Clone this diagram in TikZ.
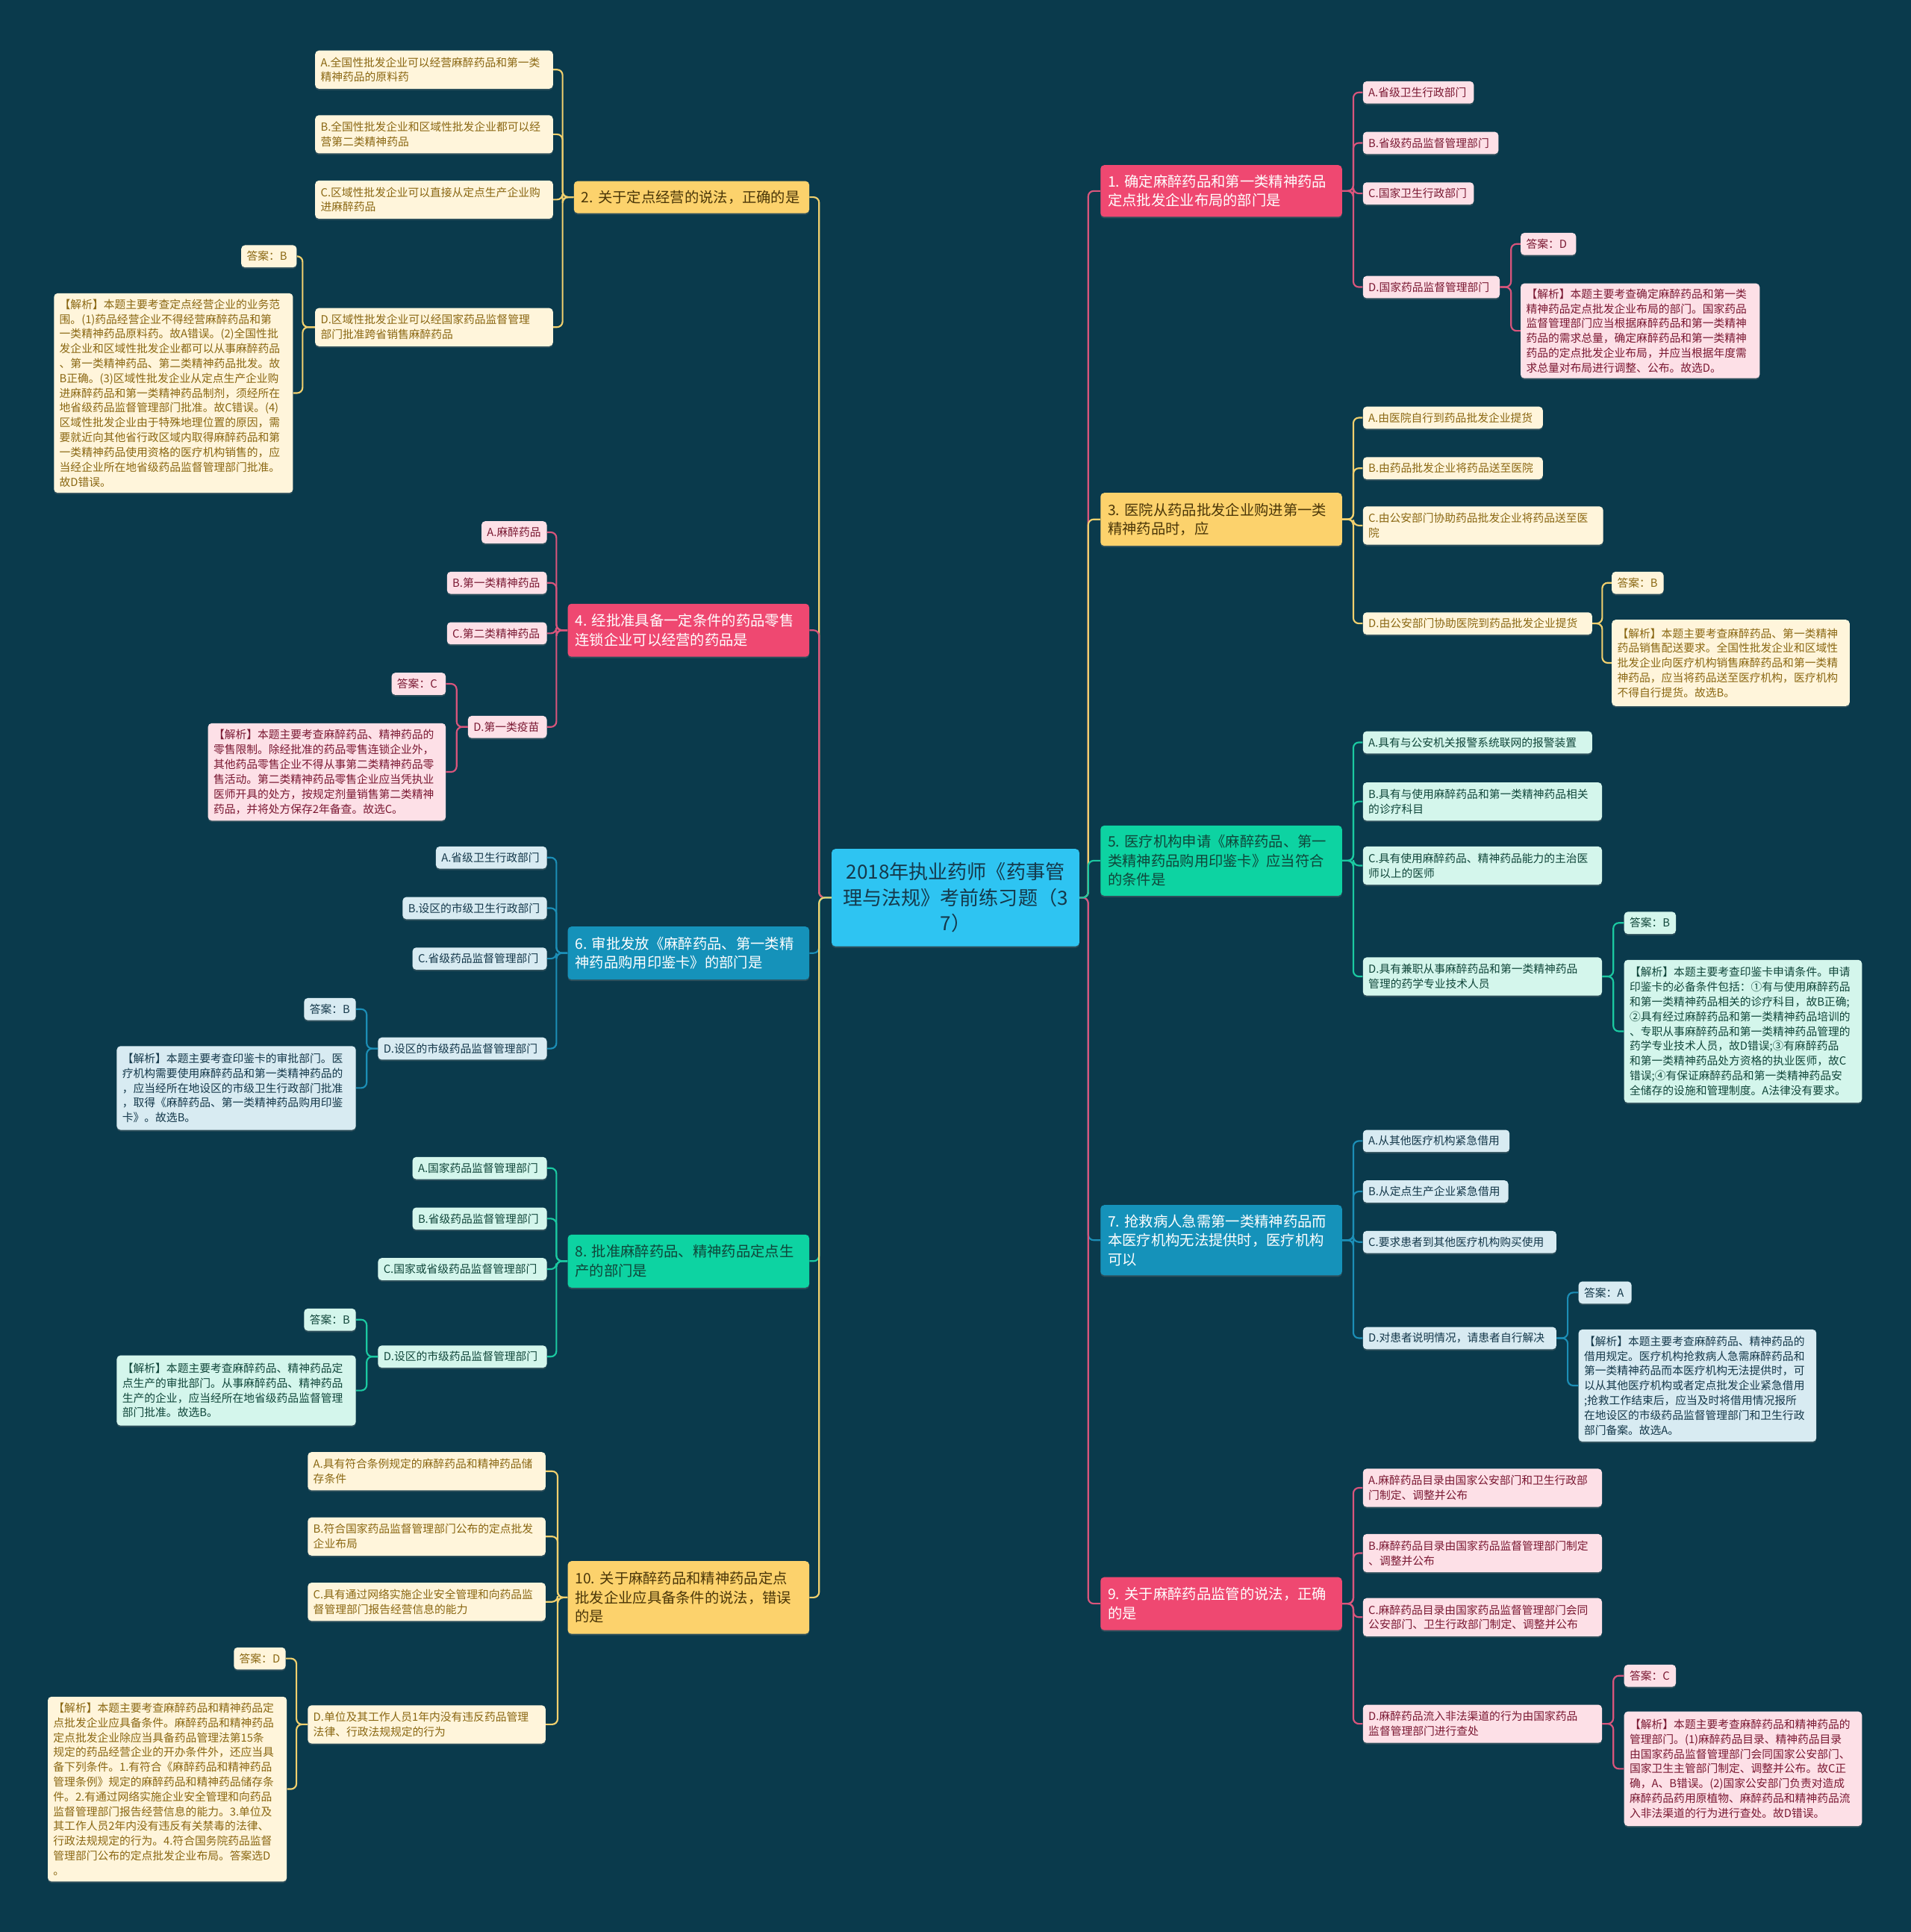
\documentclass[tikz,border=0pt]{standalone}
\usepackage{fontspec}
\setmainfont{Noto Sans CJK SC}
\usetikzlibrary{shadows}
\definecolor{bgc}{HTML}{0A3A4C}
\definecolor{ctrc}{HTML}{2EC4F2}
\definecolor{ctrtxt}{HTML}{15384A}
\definecolor{pk}{HTML}{EF4871}
\definecolor{pkline}{HTML}{D9557C}
\definecolor{pkleaf}{HTML}{FDE0E7}
\definecolor{pktxt}{HTML}{7A1832}
\definecolor{yl}{HTML}{FCD26C}
\definecolor{ylline}{HTML}{F1D06E}
\definecolor{ylleaf}{HTML}{FFF5DB}
\definecolor{yltxt}{HTML}{8A6712}
\definecolor{ylbrtxt}{HTML}{4A3608}
\definecolor{gn}{HTML}{0DD3A2}
\definecolor{gnline}{HTML}{1BC9A1}
\definecolor{gnleaf}{HTML}{D4F6EC}
\definecolor{gntxt}{HTML}{10463A}
\definecolor{bl}{HTML}{1592BA}
\definecolor{blline}{HTML}{1C8EB6}
\definecolor{blleaf}{HTML}{D8EBF2}
\definecolor{bltxt}{HTML}{14384A}
\newcommand\mmlf{\fontsize{8.95}{12}\selectfont}
\newcommand\mmbf{\fontsize{11.7}{15.5}\selectfont}
\newcommand\mmcf{\fontsize{15.8}{21}\selectfont}
\newcommand\mmW[7]{\pgfmathsetmacro\mmtw{#5-9}\node[#1,anchor=west,text width=\mmtw pt,minimum height=#6pt] (#2) at (#3,#4) {#7};}
\newcommand\mmE[7]{\pgfmathsetmacro\mmtw{#5-9}\node[#1,anchor=east,text width=\mmtw pt,minimum height=#6pt] (#2) at (#3,#4) {#7};}
\newcommand\mmB[8]{\pgfmathsetmacro\mmtw{#6-12}\node[#1,anchor=#3,text width=\mmtw pt,minimum height=#7pt] (#2) at (#4,#5) {#8};}
\tikzset{
  boxst/.style={rounded corners=3pt, inner xsep=4.5pt, inner ysep=0pt, align=left,
    drop shadow={opacity=0.3, shadow xshift=0pt, shadow yshift=-1.2pt}},
  leafst/.style={boxst, font=\mmlf},
  pkl/.style={leafst, fill=pkleaf, text=pktxt},
  yll/.style={leafst, fill=ylleaf, text=yltxt},
  gnl/.style={leafst, fill=gnleaf, text=gntxt},
  bll/.style={leafst, fill=blleaf, text=bltxt},
  brst/.style={boxst, inner xsep=6pt, font=\mmbf},
  pkb/.style={brst, fill=pk, text=white},
  ylb/.style={brst, fill=yl, text=ylbrtxt},
  gnb/.style={brst, fill=gn, text=gntxt},
  blb/.style={brst, fill=bl, text=white},
  ctrst/.style={boxst, fill=ctrc, text=ctrtxt, font=\mmcf, align=center, inner xsep=6pt},
  cn/.style={line width=1.3pt, rounded corners=4.5pt, draw=#1},
}
\begin{document}
\begin{tikzpicture}[x=1pt,y=-1pt]
\fill[bgc] (0,0) rectangle (1551,1568);
\useasboundingbox (0,0) rectangle (1551,1568);

% center
\node[ctrst, minimum width=201pt, minimum height=79pt, text width=189pt] (ctr) at (775.5,728.5)
  {2018年执业药师《药事管\\理与法规》考前练习题（3\\7）};

% right branches
\mmB{pkb}{q1}{west}{893}{155}{196}{42}{1.~确定麻醉药品和第一类精神药品\\定点批发企业布局的部门是}
\mmB{ylb}{q3}{west}{893}{421.5}{196}{43}{3.~医院从药品批发企业购进第一类\\精神药品时，应}
\mmB{gnb}{q5}{west}{893}{698.5}{196}{57}{5.~医疗机构申请《麻醉药品、第一\\类精神药品购用印鉴卡》应当符合\\的条件是}
\mmB{blb}{q7}{west}{893}{1006.5}{196}{57}{7.~抢救病人急需第一类精神药品而\\本医疗机构无法提供时，医疗机构\\可以}
\mmB{pkb}{q9}{west}{893}{1301.5}{196}{43}{9.~关于麻醉药品监管的说法，正确\\的是}

% left branches
\mmB{ylb}{q2}{east}{657}{160}{191}{26}{2.~关于定点经营的说法，正确的是}
\mmB{pkb}{q4}{east}{657}{511.5}{196}{43}{4.~经批准具备一定条件的药品零售\\连锁企业可以经营的药品是}
\mmB{blb}{q6}{east}{657}{773.5}{196}{43}{6.~审批发放《麻醉药品、第一类精\\神药品购用印鉴卡》的部门是}
\mmB{gnb}{q8}{east}{657}{1023.5}{196}{43}{8.~批准麻醉药品、精神药品定点生\\产的部门是}
\mmB{ylb}{q10}{east}{657}{1296.5}{196}{59}{10.~关于麻醉药品和精神药品定点\\批发企业应具备条件的说法，错误\\的是}

% Q1 leaves
\mmW{pkl}{q1a}{1106}{75}{90}{18}{A.省级卫生行政部门}
\mmW{pkl}{q1b}{1106}{116}{110}{18}{B.省级药品监督管理部门}
\mmW{pkl}{q1c}{1106}{157}{90}{18}{C.国家卫生行政部门}
\mmW{pkl}{q1d}{1106}{233}{111}{18}{D.国家药品监督管理部门}
\mmW{pkl}{q1ans}{1234}{198}{45}{18}{答案：D}
\mmW{pkl}{q1exp}{1234}{268.5}{194}{77}{【解析】本题主要考查确定麻醉药品和第一类\\精神药品定点批发企业布局的部门。国家药品\\监督管理部门应当根据麻醉药品和第一类精神\\药品的需求总量，确定麻醉药品和第一类精神\\药品的定点批发企业布局，并应当根据年度需\\求总量对布局进行调整、公布。故选D。}

% Q3 leaves
\mmW{yll}{q3a}{1106}{339}{146}{18}{A.由医院自行到药品批发企业提货}
\mmW{yll}{q3b}{1106}{380}{146}{18}{B.由药品批发企业将药品送至医院}
\mmW{yll}{q3c}{1106}{426.5}{195}{31}{C.由公安部门协助药品批发企业将药品送至医\\院}
\mmW{yll}{q3d}{1106}{506}{186}{18}{D.由公安部门协助医院到药品批发企业提货}
\mmW{yll}{q3ans}{1308}{473}{42}{18}{答案：B}
\mmW{yll}{q3exp}{1308}{538}{193}{70}{【解析】本题主要考查麻醉药品、第一类精神\\药品销售配送要求。全国性批发企业和区域性\\批发企业向医疗机构销售麻醉药品和第一类精\\神药品，应当将药品送至医疗机构，医疗机构\\不得自行提货。故选B。}

% Q5 leaves
\mmW{gnl}{q5a}{1106}{602.5}{186}{18}{A.具有与公安机关报警系统联网的报警装置}
\mmW{gnl}{q5b}{1106}{650.5}{194}{31}{B.具有与使用麻醉药品和第一类精神药品相关\\的诊疗科目}
\mmW{gnl}{q5c}{1106}{702.5}{194}{31}{C.具有使用麻醉药品、精神药品能力的主治医\\师以上的医师}
\mmW{gnl}{q5d}{1106}{792.5}{194}{31}{D.具有兼职从事麻醉药品和第一类精神药品\\管理的药学专业技术人员}
\mmW{gnl}{q5ans}{1318}{749}{42}{18}{答案：B}
\mmW{gnl}{q5exp}{1318}{837}{193}{116}{【解析】本题主要考查印鉴卡申请条件。申请\\印鉴卡的必备条件包括：①有与使用麻醉药品\\和第一类精神药品相关的诊疗科目，故B正确;\\②具有经过麻醉药品和第一类精神药品培训的\\、专职从事麻醉药品和第一类精神药品管理的\\药学专业技术人员，故D错误;③有麻醉药品\\和第一类精神药品处方资格的执业医师，故C\\错误;④有保证麻醉药品和第一类精神药品安\\全储存的设施和管理制度。A法律没有要求。}

% Q7 leaves
\mmW{bll}{q7a}{1106}{926}{119}{18}{A.从其他医疗机构紧急借用}
\mmW{bll}{q7b}{1106}{967}{118}{18}{B.从定点生产企业紧急借用}
\mmW{bll}{q7c}{1106}{1008}{157}{18}{C.要求患者到其他医疗机构购买使用}
\mmW{bll}{q7d}{1106}{1086}{157}{18}{D.对患者说明情况，请患者自行解决}
\mmW{bll}{q7ans}{1281}{1049}{43}{18}{答案：A}
\mmW{bll}{q7exp}{1281}{1124.5}{193}{91}{【解析】本题主要考查麻醉药品、精神药品的\\借用规定。医疗机构抢救病人急需麻醉药品和\\第一类精神药品而本医疗机构无法提供时，可\\以从其他医疗机构或者定点批发企业紧急借用\\;抢救工作结束后，应当及时将借用情况报所\\在地设区的市级药品监督管理部门和卫生行政\\部门备案。故选A。}

% Q9 leaves
\mmW{pkl}{q9a}{1106}{1207.5}{194}{31}{A.麻醉药品目录由国家公安部门和卫生行政部\\门制定、调整并公布}
\mmW{pkl}{q9b}{1106}{1260.5}{194}{31}{B.麻醉药品目录由国家药品监督管理部门制定\\、调整并公布}
\mmW{pkl}{q9c}{1106}{1312.5}{194}{31}{C.麻醉药品目录由国家药品监督管理部门会同\\公安部门、卫生行政部门制定、调整并公布}
\mmW{pkl}{q9d}{1106}{1399}{194}{31}{D.麻醉药品流入非法渠道的行为由国家药品\\监督管理部门进行查处}
\mmW{pkl}{q9ans}{1318}{1360}{42}{18}{答案：C}
\mmW{pkl}{q9exp}{1318}{1435.5}{193}{93}{【解析】本题主要考查麻醉药品和精神药品的\\管理部门。(1)麻醉药品目录、精神药品目录\\由国家药品监督管理部门会同国家公安部门、\\国家卫生主管部门制定、调整并公布。故C正\\确，A、B错误。(2)国家公安部门负责对造成\\麻醉药品药用原植物、麻醉药品和精神药品流\\入非法渠道的行为进行查处。故D错误。}

% Q2 leaves
\mmE{yll}{q2a}{449}{56.5}{193}{31}{A.全国性批发企业可以经营麻醉药品和第一类\\精神药品的原料药}
\mmE{yll}{q2b}{449}{109}{193}{31}{B.全国性批发企业和区域性批发企业都可以经\\营第二类精神药品}
\mmE{yll}{q2c}{449}{162}{193}{31}{C.区域性批发企业可以直接从定点生产企业购\\进麻醉药品}
\mmE{yll}{q2d}{449}{265.5}{193}{31}{D.区域性批发企业可以经国家药品监督管理\\部门批准跨省销售麻醉药品}
\mmE{yll}{q2ans}{241}{208}{45}{18}{答案：B}
\mmE{yll}{q2exp}{238}{319}{194}{162}{【解析】本题主要考查定点经营企业的业务范\\围。(1)药品经营企业不得经营麻醉药品和第\\一类精神药品原料药。故A错误。(2)全国性批\\发企业和区域性批发企业都可以从事麻醉药品\\、第一类精神药品、第二类精神药品批发。故\\B正确。(3)区域性批发企业从定点生产企业购\\进麻醉药品和第一类精神药品制剂，须经所在\\地省级药品监督管理部门批准。故C错误。(4)\\区域性批发企业由于特殊地理位置的原因，需\\要就近向其他省行政区域内取得麻醉药品和第\\一类精神药品使用资格的医疗机构销售的，应\\当经企业所在地省级药品监督管理部门批准。\\故D错误。}

% Q4 leaves
\mmE{pkl}{q4a}{444}{432}{53}{18}{A.麻醉药品}
\mmE{pkl}{q4b}{444}{473}{81}{18}{B.第一类精神药品}
\mmE{pkl}{q4c}{444}{514}{81}{18}{C.第二类精神药品}
\mmE{pkl}{q4d}{444}{590}{64}{18}{D.第一类疫苗}
\mmE{pkl}{q4ans}{362}{555}{44}{18}{答案：C}
\mmE{pkl}{q4exp}{362}{626.5}{193}{79}{【解析】本题主要考查麻醉药品、精神药品的\\零售限制。除经批准的药品零售连锁企业外，\\其他药品零售企业不得从事第二类精神药品零\\售活动。第二类精神药品零售企业应当凭执业\\医师开具的处方，按规定剂量销售第二类精神\\药品，并将处方保存2年备查。故选C。}

% Q6 leaves
\mmE{bll}{q6a}{444}{696}{90}{18}{A.省级卫生行政部门}
\mmE{bll}{q6b}{444}{737}{117}{18}{B.设区的市级卫生行政部门}
\mmE{bll}{q6c}{444}{778}{109}{18}{C.省级药品监督管理部门}
\mmE{bll}{q6d}{444}{851}{137}{18}{D.设区的市级药品监督管理部门}
\mmE{bll}{q6ans}{289}{819}{42}{18}{答案：B}
\mmE{bll}{q6exp}{289}{883}{194}{68}{【解析】本题主要考查印鉴卡的审批部门。医\\疗机构需要使用麻醉药品和第一类精神药品的\\，应当经所在地设区的市级卫生行政部门批准\\，取得《麻醉药品、第一类精神药品购用印鉴\\卡》。故选B。}

% Q8 leaves
\mmE{gnl}{q8a}{444}{948}{109}{18}{A.国家药品监督管理部门}
\mmE{gnl}{q8b}{444}{989}{109}{18}{B.省级药品监督管理部门}
\mmE{gnl}{q8c}{444}{1030}{137}{18}{C.国家或省级药品监督管理部门}
\mmE{gnl}{q8d}{444}{1101}{137}{18}{D.设区的市级药品监督管理部门}
\mmE{gnl}{q8ans}{289}{1071}{42}{18}{答案：B}
\mmE{gnl}{q8exp}{289}{1128.5}{194}{57}{【解析】本题主要考查麻醉药品、精神药品定\\点生产的审批部门。从事麻醉药品、精神药品\\生产的企业，应当经所在地省级药品监督管理\\部门批准。故选B。}

% Q10 leaves
\mmE{yll}{q10a}{443}{1194}{193}{31}{A.具有符合条例规定的麻醉药品和精神药品储\\存条件}
\mmE{yll}{q10b}{443}{1247}{193}{31}{B.符合国家药品监督管理部门公布的定点批发\\企业布局}
\mmE{yll}{q10c}{443}{1300}{193}{31}{C.具有通过网络实施企业安全管理和向药品监\\督管理部门报告经营信息的能力}
\mmE{yll}{q10d}{443}{1399.5}{193}{31}{D.单位及其工作人员1年内没有违反药品管理\\法律、行政法规规定的行为}
\mmE{yll}{q10ans}{232}{1346}{42}{18}{答案：D}
\mmE{yll}{q10exp}{233}{1452}{194}{150}{【解析】本题主要考查麻醉药品和精神药品定\\点批发企业应具备条件。麻醉药品和精神药品\\定点批发企业除应当具备药品管理法第15条\\规定的药品经营企业的开办条件外，还应当具\\备下列条件。1.有符合《麻醉药品和精神药品\\管理条例》规定的麻醉药品和精神药品储存条\\件。2.有通过网络实施企业安全管理和向药品\\监督管理部门报告经营信息的能力。3.单位及\\其工作人员2年内没有违反有关禁毒的法律、\\行政法规规定的行为。4.符合国务院药品监督\\管理部门公布的定点批发企业布局。答案选D\\。}

% ---- main connectors ----
\draw[cn=ylline] (ctr.west) -- ++(-10,0) |- (q2.east);
\draw[cn=pkline] (ctr.west) -- ++(-10,0) |- (q4.east);
\draw[cn=blline] (ctr.west) -- ++(-10,0) |- (q6.east);
\draw[cn=gnline] (ctr.west) -- ++(-10,0) |- (q8.east);
\draw[cn=ylline] (ctr.west) -- ++(-10,0) |- (q10.east);
\draw[cn=pkline] (ctr.east) -- ++(7,0) |- (q1.west);
\draw[cn=ylline] (ctr.east) -- ++(7,0) |- (q3.west);
\draw[cn=blline] (ctr.east) -- ++(7,0) |- (q7.west);
\draw[cn=pkline] (ctr.east) -- ++(7,0) |- (q9.west);
\draw[cn=gnline] (ctr.east) -- ++(7,0) |- (q5.west);

% ---- right leaf connectors ----
\foreach \c in {q1a,q1b,q1c,q1d} \draw[cn=pkline] (q1.east) -- ++(9,0) |- (\c.west);
\foreach \c in {q1ans,q1exp} \draw[cn=pkline] (q1d.east) -- ++(9,0) |- (\c.west);
\foreach \c in {q3a,q3b,q3c,q3d} \draw[cn=ylline] (q3.east) -- ++(9,0) |- (\c.west);
\foreach \c in {q3ans,q3exp} \draw[cn=ylline] (q3d.east) -- ++(8,0) |- (\c.west);
\foreach \c in {q5a,q5b,q5c,q5d} \draw[cn=gnline] (q5.east) -- ++(9,0) |- (\c.west);
\foreach \c in {q5ans,q5exp} \draw[cn=gnline] (q5d.east) -- ++(9,0) |- (\c.west);
\foreach \c in {q7a,q7b,q7c,q7d} \draw[cn=blline] (q7.east) -- ++(9,0) |- (\c.west);
\foreach \c in {q7ans,q7exp} \draw[cn=blline] (q7d.east) -- ++(9,0) |- (\c.west);
\foreach \c in {q9a,q9b,q9c,q9d} \draw[cn=pkline] (q9.east) -- ++(9,0) |- (\c.west);
\foreach \c in {q9ans,q9exp} \draw[cn=pkline] (q9d.east) -- ++(9,0) |- (\c.west);

% ---- left leaf connectors ----
\foreach \c in {q2a,q2b,q2c,q2d} \draw[cn=ylline] (q2.west) -- ++(-9,0) |- (\c.east);
\foreach \c in {q2ans,q2exp} \draw[cn=ylline] (q2d.west) -- ++(-10,0) |- (\c.east);
\foreach \c in {q4a,q4b,q4c,q4d} \draw[cn=pkline] (q4.west) -- ++(-9,0) |- (\c.east);
\foreach \c in {q4ans,q4exp} \draw[cn=pkline] (q4d.west) -- ++(-9,0) |- (\c.east);
\foreach \c in {q6a,q6b,q6c,q6d} \draw[cn=blline] (q6.west) -- ++(-9,0) |- (\c.east);
\foreach \c in {q6ans,q6exp} \draw[cn=blline] (q6d.west) -- ++(-9,0) |- (\c.east);
\foreach \c in {q8a,q8b,q8c,q8d} \draw[cn=gnline] (q8.west) -- ++(-9,0) |- (\c.east);
\foreach \c in {q8ans,q8exp} \draw[cn=gnline] (q8d.west) -- ++(-9,0) |- (\c.east);
\foreach \c in {q10a,q10b,q10c,q10d} \draw[cn=ylline] (q10.west) -- ++(-8,0) |- (\c.east);
\foreach \c in {q10ans,q10exp} \draw[cn=ylline] (q10d.west) -- ++(-9,0) |- (\c.east);
\end{tikzpicture}
\end{document}
